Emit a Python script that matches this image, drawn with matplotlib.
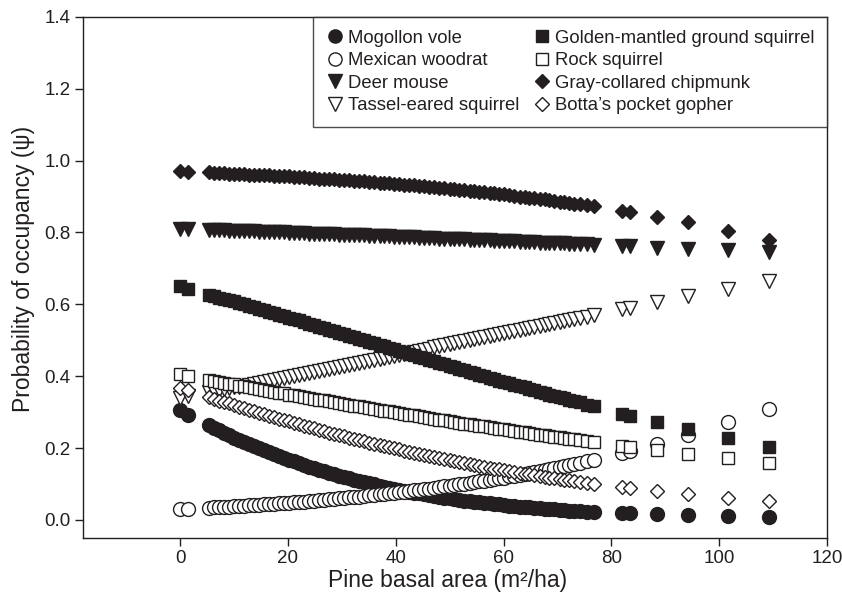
import matplotlib
matplotlib.use('Agg')
import matplotlib.pyplot as plt

plt.rcParams['font.family'] = ['Liberation Sans', 'DejaVu Sans']

# Pine basal area at each site (m2/ha)
basal_area = [0, 1.5, 5.4, 6.3, 7.3, 8.2, 9.1, 10.0, 11.0, 11.9, 12.8, 13.7,
              14.7, 15.6, 16.5, 17.4, 18.4, 19.3, 20.2, 21.1, 22.1, 23.0, 24.0,
              24.9, 25.8, 26.7, 27.7, 28.6, 29.5, 30.4, 31.4, 32.3, 33.2, 34.1,
              35.1, 36.0, 37.0, 37.9, 38.8, 39.7, 40.7, 41.6, 42.5, 43.4, 44.4,
              45.3, 46.2, 47.1, 48.1, 49.0, 50.0, 50.9, 51.8, 52.7, 53.7, 54.6,
              55.5, 56.4, 57.4, 58.3, 59.2, 60.1, 61.1, 62.0, 63.0, 63.9, 64.8,
              65.7, 66.7, 67.6, 68.5, 69.4, 70.4, 71.3, 72.2, 73.1, 74.1, 75.4,
              76.7, 82.0, 83.5, 88.5, 94.2, 101.7, 109.3]

# Probability of occupancy for each species, one value per site
mogollon_vole = [0.305, 0.293, 0.263, 0.256, 0.249, 0.242, 0.236, 0.229, 0.223,
                 0.217, 0.211, 0.205, 0.199, 0.194, 0.189, 0.183, 0.178, 0.173,
                 0.168, 0.163, 0.158, 0.153, 0.148, 0.144, 0.140, 0.135, 0.131,
                 0.127, 0.123, 0.119, 0.116, 0.112, 0.109, 0.105, 0.102, 0.099,
                 0.095, 0.092, 0.090, 0.087, 0.084, 0.081, 0.079, 0.076, 0.074,
                 0.071, 0.069, 0.066, 0.064, 0.062, 0.060, 0.058, 0.056, 0.054,
                 0.053, 0.051, 0.049, 0.047, 0.046, 0.044, 0.043, 0.041, 0.040,
                 0.038, 0.037, 0.036, 0.035, 0.034, 0.033, 0.031, 0.030, 0.029,
                 0.028, 0.027, 0.026, 0.025, 0.025, 0.023, 0.022, 0.019, 0.018,
                 0.016, 0.014, 0.011, 0.007]
mexican_woodrat = [0.030, 0.031, 0.034, 0.035, 0.036, 0.037, 0.037, 0.038, 0.039,
                   0.040, 0.041, 0.042, 0.042, 0.043, 0.044, 0.045, 0.046, 0.047,
                   0.048, 0.049, 0.050, 0.051, 0.053, 0.054, 0.055, 0.056, 0.057,
                   0.058, 0.060, 0.061, 0.063, 0.064, 0.065, 0.066, 0.068, 0.069,
                   0.071, 0.072, 0.074, 0.075, 0.077, 0.078, 0.080, 0.082, 0.084,
                   0.085, 0.087, 0.089, 0.091, 0.093, 0.095, 0.097, 0.099, 0.101,
                   0.103, 0.105, 0.107, 0.109, 0.112, 0.114, 0.116, 0.118, 0.121,
                   0.123, 0.126, 0.128, 0.131, 0.134, 0.137, 0.139, 0.142, 0.145,
                   0.148, 0.150, 0.153, 0.156, 0.159, 0.164, 0.168, 0.187, 0.193,
                   0.212, 0.237, 0.272, 0.310]
deer_mouse = [0.810, 0.809, 0.807, 0.807, 0.806, 0.806, 0.805, 0.805, 0.804,
              0.804, 0.803, 0.803, 0.802, 0.802, 0.801, 0.801, 0.800, 0.800,
              0.799, 0.799, 0.798, 0.798, 0.797, 0.797, 0.796, 0.796, 0.795,
              0.795, 0.794, 0.794, 0.793, 0.793, 0.792, 0.792, 0.791, 0.791,
              0.790, 0.790, 0.789, 0.788, 0.787, 0.787, 0.786, 0.786, 0.785,
              0.785, 0.784, 0.784, 0.783, 0.783, 0.782, 0.782, 0.781, 0.781,
              0.780, 0.780, 0.779, 0.779, 0.778, 0.777, 0.776, 0.776, 0.775,
              0.775, 0.774, 0.774, 0.773, 0.773, 0.772, 0.772, 0.771, 0.771,
              0.770, 0.770, 0.769, 0.768, 0.767, 0.767, 0.766, 0.762, 0.762,
              0.758, 0.755, 0.750, 0.745]
tassel_eared = [0.340, 0.344, 0.355, 0.358, 0.361, 0.364, 0.366, 0.369, 0.371,
                0.374, 0.376, 0.379, 0.382, 0.385, 0.387, 0.390, 0.393, 0.396,
                0.398, 0.401, 0.404, 0.407, 0.409, 0.412, 0.415, 0.418, 0.420,
                0.423, 0.426, 0.429, 0.431, 0.434, 0.437, 0.440, 0.443, 0.446,
                0.449, 0.452, 0.454, 0.457, 0.460, 0.463, 0.465, 0.468, 0.471,
                0.474, 0.477, 0.480, 0.483, 0.486, 0.489, 0.492, 0.494, 0.497,
                0.500, 0.503, 0.506, 0.509, 0.511, 0.514, 0.517, 0.520, 0.523,
                0.526, 0.528, 0.531, 0.534, 0.537, 0.540, 0.543, 0.545, 0.548,
                0.551, 0.554, 0.557, 0.560, 0.562, 0.566, 0.570, 0.586, 0.591,
                0.606, 0.622, 0.644, 0.665]
golden_mantled = [0.650, 0.644, 0.627, 0.623, 0.619, 0.616, 0.612, 0.608, 0.603,
                  0.600, 0.596, 0.592, 0.587, 0.583, 0.579, 0.575, 0.571, 0.567,
                  0.563, 0.559, 0.555, 0.551, 0.546, 0.542, 0.538, 0.534, 0.529,
                  0.525, 0.521, 0.517, 0.512, 0.508, 0.504, 0.500, 0.496, 0.492,
                  0.487, 0.483, 0.479, 0.475, 0.471, 0.467, 0.462, 0.458, 0.454,
                  0.450, 0.446, 0.442, 0.437, 0.433, 0.429, 0.425, 0.421, 0.417,
                  0.412, 0.408, 0.404, 0.400, 0.396, 0.392, 0.388, 0.384, 0.380,
                  0.376, 0.372, 0.369, 0.365, 0.361, 0.357, 0.353, 0.349, 0.345,
                  0.341, 0.338, 0.334, 0.331, 0.327, 0.321, 0.316, 0.296, 0.290,
                  0.272, 0.252, 0.227, 0.204]
rock_squirrel = [0.405, 0.401, 0.390, 0.387, 0.384, 0.382, 0.379, 0.377, 0.374,
                 0.372, 0.369, 0.367, 0.364, 0.362, 0.359, 0.357, 0.354, 0.352,
                 0.349, 0.347, 0.344, 0.342, 0.339, 0.337, 0.335, 0.333, 0.330,
                 0.328, 0.325, 0.323, 0.320, 0.318, 0.316, 0.314, 0.311, 0.309,
                 0.306, 0.304, 0.302, 0.300, 0.297, 0.295, 0.293, 0.291, 0.288,
                 0.286, 0.284, 0.282, 0.279, 0.277, 0.275, 0.273, 0.270, 0.268,
                 0.266, 0.264, 0.262, 0.260, 0.258, 0.256, 0.254, 0.252, 0.250,
                 0.248, 0.245, 0.244, 0.242, 0.240, 0.237, 0.236, 0.234, 0.232,
                 0.230, 0.228, 0.226, 0.224, 0.222, 0.219, 0.217, 0.207, 0.204,
                 0.194, 0.184, 0.171, 0.159]
gray_collared = [0.970, 0.969, 0.967, 0.966, 0.965, 0.965, 0.964, 0.964, 0.963,
                 0.962, 0.961, 0.961, 0.960, 0.960, 0.959, 0.958, 0.957, 0.957,
                 0.956, 0.955, 0.954, 0.953, 0.952, 0.951, 0.950, 0.950, 0.949,
                 0.948, 0.947, 0.946, 0.945, 0.944, 0.943, 0.942, 0.941, 0.940,
                 0.939, 0.938, 0.937, 0.936, 0.934, 0.933, 0.932, 0.931, 0.929,
                 0.928, 0.927, 0.926, 0.924, 0.923, 0.922, 0.921, 0.919, 0.918,
                 0.916, 0.915, 0.913, 0.912, 0.910, 0.909, 0.907, 0.906, 0.904,
                 0.902, 0.900, 0.899, 0.897, 0.895, 0.893, 0.892, 0.890, 0.888,
                 0.886, 0.884, 0.882, 0.880, 0.878, 0.876, 0.873, 0.860, 0.857,
                 0.844, 0.828, 0.805, 0.780]
botta_gopher = [0.368, 0.361, 0.341, 0.337, 0.332, 0.328, 0.324, 0.320, 0.315,
                0.311, 0.307, 0.303, 0.298, 0.294, 0.290, 0.286, 0.282, 0.278,
                0.274, 0.270, 0.266, 0.262, 0.258, 0.255, 0.251, 0.247, 0.243,
                0.240, 0.236, 0.233, 0.229, 0.226, 0.222, 0.219, 0.215, 0.212,
                0.209, 0.206, 0.202, 0.199, 0.196, 0.193, 0.190, 0.187, 0.184,
                0.181, 0.178, 0.175, 0.172, 0.169, 0.166, 0.164, 0.161, 0.159,
                0.156, 0.154, 0.151, 0.148, 0.145, 0.143, 0.141, 0.139, 0.136,
                0.134, 0.131, 0.129, 0.127, 0.125, 0.122, 0.120, 0.118, 0.116,
                0.114, 0.112, 0.110, 0.108, 0.106, 0.104, 0.101, 0.091, 0.089,
                0.080, 0.072, 0.062, 0.053]

ink = '#231f20'

# (label, values, marker, size, filled)
series = [
    ('Mogollon vole', mogollon_vole, 'o', 10, True),
    ('Mexican woodrat', mexican_woodrat, 'o', 10, False),
    ('Deer mouse', deer_mouse, 'v', 10.5, True),
    ('Tassel-eared squirrel', tassel_eared, 'v', 10.5, False),
    ('Golden-mantled ground squirrel', golden_mantled, 's', 8.8, True),
    ('Rock squirrel', rock_squirrel, 's', 8.8, False),
    ('Gray-collared chipmunk', gray_collared, 'D', 7.6, True),
    ("Botta\u2019s pocket gopher", botta_gopher, 'D', 7.6, False),
]

fig = plt.figure(figsize=(8.42, 6.03), dpi=100)
ax = fig.add_axes([0.0986, 0.108, 0.8836, 0.864])

for label, values, marker, size, filled in series:
    ax.plot(basal_area, values, linestyle='none', marker=marker, markersize=size,
            markerfacecolor=ink if filled else 'white', markeredgecolor=ink,
            markeredgewidth=1.0, label=label)

ax.set_xlim(-18, 120)
ax.set_ylim(-0.05, 1.4)
ax.set_xticks([0, 20, 40, 60, 80, 100, 120])
ax.set_yticks([0.0, 0.2, 0.4, 0.6, 0.8, 1.0, 1.2, 1.4])
ax.set_yticklabels(['0.0', '0.2', '0.4', '0.6', '0.8', '1.0', '1.2', '1.4'])
ax.tick_params(direction='out', length=6, width=1.0, labelsize=13.5,
               colors=ink, pad=3)
for spine in ax.spines.values():
    spine.set_linewidth(1.0)
    spine.set_color(ink)

ax.set_xlabel('Pine basal area (m\u00b2/ha)', fontsize=16.5, color=ink)
ax.set_ylabel('Probability of occupancy (\u03c8)', fontsize=16.5, color=ink)
ax.xaxis.set_label_coords(0.49, -0.059)
ax.yaxis.set_label_coords(-0.065, 0.516)

leg = ax.legend(loc='upper right', ncol=2, fontsize=13.3, frameon=True,
                fancybox=False, borderaxespad=0, borderpad=0.7,
                labelspacing=0.3, handlelength=1.0, handletextpad=0.2,
                columnspacing=0.7, markerscale=0.95)
leg.get_frame().set_edgecolor(ink)
leg.get_frame().set_linewidth(1.0)
for t in leg.get_texts():
    t.set_color(ink)

plt.savefig('out.png', dpi=100)
